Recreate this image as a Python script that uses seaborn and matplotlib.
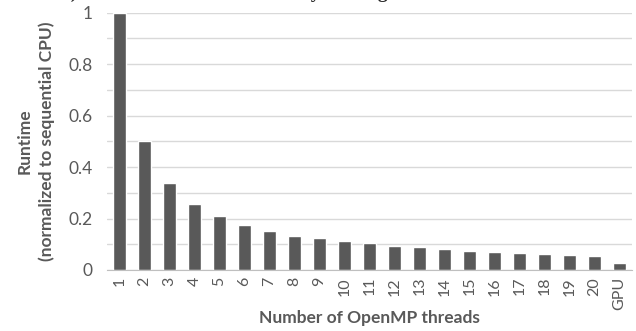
import matplotlib
matplotlib.use("Agg")
import matplotlib.pyplot as plt
import seaborn as sns
import pandas as pd
import numpy as np

threads = ['1', '2', '3', '4', '5', '6', '7', '8', '9', '10', '11', '12', '13',
           '14', '15', '16', '17', '18', '19', '20', 'GPU']
runtime = [1.0, 0.50, 0.34, 0.255, 0.208, 0.175, 0.152, 0.134, 0.123, 0.112,
           0.104, 0.095, 0.088, 0.081, 0.075, 0.070, 0.066, 0.062, 0.058, 0.056, 0.028]
y_ticks = [0, 0.2, 0.4, 0.6, 0.8, 1]
y_tick_labels = ['0', '0.2', '0.4', '0.6', '0.8', '1']

df = pd.DataFrame({'threads': threads, 'runtime': runtime})

sns.set_style('white')
plt.rcParams['font.family'] = ['Lato', 'DejaVu Sans']

grey_text = '#595959'
fig = plt.figure(figsize=(6.36, 3.31), dpi=100)
ax = fig.add_axes([0.168, 0.1843, 0.826, 0.7773])

sns.barplot(data=df, x='threads', y='runtime', color='#595959',
            saturation=1, width=0.52, ax=ax)

ax.set_xlim(-0.5, len(threads) - 0.5)
ax.set_ylim(0, 1)
ax.set_yticks(y_ticks)
ax.set_yticklabels(y_tick_labels, fontsize=12.5, color=grey_text)
ax.set_yticks(np.arange(0, 1.01, 0.1), minor=True)
ax.yaxis.grid(True, which='both', color='#d9d9d9', linewidth=1)
ax.set_axisbelow(True)
ax.tick_params(axis='y', which='both', length=0, pad=10)

ax.set_xticks(range(len(threads)))
ax.set_xticklabels(threads, rotation=90, fontsize=11.5, color=grey_text)
ax.set_xticks(np.arange(-0.5, len(threads), 1), minor=True)
ax.tick_params(axis='x', which='major', length=0, pad=5)
ax.tick_params(axis='x', which='minor', length=5, color='#bfbfbf', width=1)

sns.despine(ax=ax, left=True, top=True, right=True)
ax.spines['bottom'].set_color('#bfbfbf')

ax.set_xlabel('Number of OpenMP threads', fontsize=12.5, fontweight='bold',
              color=grey_text, va='center')
ax.xaxis.set_label_coords(0.5, -0.185)
ax.set_ylabel('Runtime\n(normalized to sequential CPU)', fontsize=12.5,
              fontweight='bold', color=grey_text, labelpad=10, linespacing=1.45)

# title of the original figure is cropped; only descenders are visible
fig.text(0.123, 1.005, 'b)', ha='right', va='baseline', fontsize=14,
         fontweight='bold', family='Liberation Serif')
fig.text(0.505, 1.005, 'by', ha='right', va='baseline', fontsize=14,
         fontweight='bold', family='Liberation Serif')
fig.text(0.61, 1.005, 'ng', ha='right', va='baseline', fontsize=14,
         fontweight='bold', family='Liberation Serif')

fig.savefig('out.png', dpi=100)
